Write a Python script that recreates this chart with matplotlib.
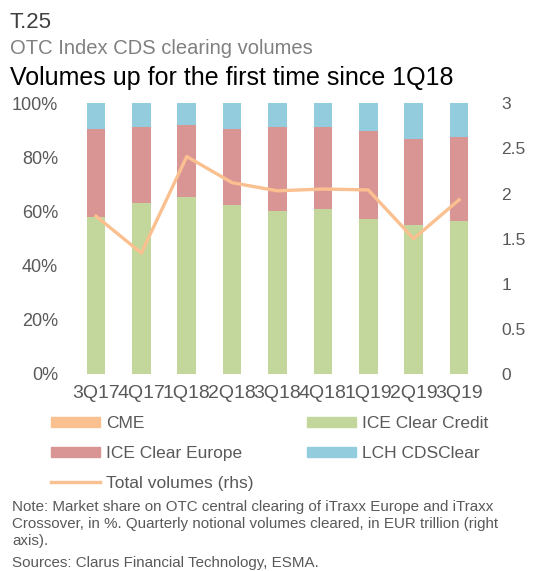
import matplotlib.pyplot as plt
import numpy as np
from matplotlib.patches import Patch
from matplotlib.lines import Line2D

plt.rcParams['font.family'] = ['Liberation Sans', 'DejaVu Sans']

# quarters and market shares (%)
quarters = ["3Q17", "4Q17", "1Q18", "2Q18", "3Q18", "4Q18", "1Q19", "2Q19", "3Q19"]
cme = [0, 0, 0, 0, 0, 0, 0, 0, 0]
ice_credit = [58.1, 63.3, 65.5, 62.6, 60.3, 61.1, 57.4, 55.2, 56.7]
ice_europe = [32.4, 28.0, 26.5, 27.9, 31.0, 30.2, 32.4, 31.6, 30.9]
lch = [9.5, 8.7, 8.0, 9.5, 8.7, 8.7, 10.2, 13.2, 12.4]
# total volumes, EUR trillion (rhs)
total_volumes = [1.75, 1.34, 2.41, 2.12, 2.03, 2.05, 2.04, 1.50, 1.93]

c_cme = "#FAC090"
c_credit = "#C3D69B"
c_europe = "#D99594"
c_lch = "#93CDDD"
c_line = "#FAC090"
grey = "#595959"

W, H = 556, 571
fig = plt.figure(figsize=(W / 100, H / 100), dpi=100)

# titles
fig.text(10 / W, 1 - 28 / H, "T.25", fontsize=16, color="#404040")
fig.text(10 / W, 1 - 54 / H, "OTC Index CDS clearing volumes", fontsize=14.5, color="#808080")
fig.text(10 / W, 1 - 85 / H, "Volumes up for the first time since 1Q18", fontsize=18, color="black")

ax = fig.add_axes([73.3 / W, 1 - 374 / H, 408.4 / W, 270.7 / H])
x = np.arange(len(quarters))
bw = 0.41
bottom = np.zeros(len(quarters))
for vals, col in [(cme, c_cme), (ice_credit, c_credit), (ice_europe, c_europe), (lch, c_lch)]:
    ax.bar(x, vals, bw, bottom=bottom, color=col, zorder=2)
    bottom = bottom + np.array(vals)

ax.set_xlim(-0.5, len(quarters) - 0.5)
ax.set_ylim(0, 100)
ax.set_yticks(np.arange(0, 101, 20))
ax.set_yticklabels([f"{v}%" for v in range(0, 101, 20)])
ax.set_xticks(x)
ax.set_xticklabels(quarters)
ax.tick_params(axis="y", length=0, pad=11, labelsize=13, labelcolor=grey)
ax.tick_params(axis="x", length=0, pad=8, labelsize=14, labelcolor=grey)
for s in ax.spines.values():
    s.set_visible(False)

ax2 = ax.twinx()
ax2.plot(x, total_volumes, color=c_line, lw=2.4, zorder=3)
ax2.set_ylim(0, 3)
ax2.set_yticks(np.arange(0, 3.01, 0.5))
ax2.set_yticklabels(["0", "0.5", "1", "1.5", "2", "2.5", "3"])
ax2.tick_params(axis="y", length=0, pad=14, labelsize=12.5, labelcolor=grey)
for s in ax2.spines.values():
    s.set_visible(False)

# legend
handles = [
    Patch(color=c_cme, label="CME"),
    Patch(color=c_europe, label="ICE Clear Europe"),
    Line2D([], [], color=c_line, lw=2.4, label="Total volumes (rhs)"),
    Patch(color=c_credit, label="ICE Clear Credit"),
    Patch(color=c_lch, label="LCH CDSClear"),
]
leg = fig.legend(handles=handles, ncol=2, loc="upper left",
                 bbox_to_anchor=(51 / W, 1 - 416 / H), frameon=False,
                 fontsize=12.5, handlelength=2.8, handleheight=0.5,
                 handletextpad=0.35, columnspacing=3.1, labelspacing=0.85,
                 borderaxespad=0, borderpad=0)
for t in leg.get_texts():
    t.set_color(grey)

# note
note = ("Note: Market share on OTC central clearing of iTraxx Europe and iTraxx\n"
        "Crossover, in %. Quarterly notional volumes cleared, in EUR trillion (right\n"
        "axis).")
fig.text(12 / W, 1 - 500 / H, note, fontsize=10.9, color=grey, va="top", linespacing=1.25)
fig.text(12 / W, 1 - 556 / H, "Sources: Clarus Financial Technology, ESMA.", fontsize=10.9,
         color=grey, va="top")

fig.savefig("out.png", dpi=100)
